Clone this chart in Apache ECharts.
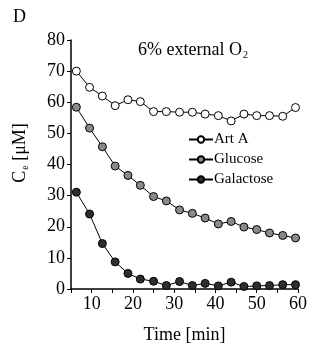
<!DOCTYPE html>
<html>
<head>
<meta charset="utf-8">
<script src="https://cdn.jsdelivr.net/npm/echarts@6/dist/echarts.min.js"></script>
<style>
  html, body { margin: 0; padding: 0; background: #fff; }
  #chart { width: 310px; height: 349px; }
</style>
</head>
<body>
<div id="chart"></div>
<script>
var chart = echarts.init(document.getElementById('chart'));

// time points [min]
var times = [6.3, 9.5, 12.6, 15.7, 18.8, 21.8, 25.0, 28.1, 31.3, 34.4, 37.5, 40.7, 43.8, 46.9, 50.0, 53.1, 56.3, 59.4];
// C_e [uM]
var artA = [70.0, 64.8, 62.0, 58.9, 60.8, 60.2, 57.0, 57.0, 56.8, 56.8, 56.2, 55.7, 54.0, 56.2, 55.7, 55.7, 55.5, 58.3];
var glucose = [58.4, 51.7, 45.7, 39.5, 36.5, 33.3, 29.7, 28.3, 25.4, 24.3, 22.8, 20.9, 21.7, 19.9, 19.1, 18.0, 17.2, 16.4];
var galactose = [31.1, 24.1, 14.6, 8.7, 5.0, 3.2, 2.5, 1.1, 2.4, 1.1, 1.8, 1.0, 2.2, 0.8, 1.0, 1.1, 1.4, 1.4];
var seriesNames = ['Art A', 'Glucose', 'Galactose'];
var fills = ['#ffffff', '#8a8a8a', '#2e2e2e'];

var font = '"Liberation Serif", "Times New Roman", serif';

function pairs(ys) {
    return ys.map(function (y, i) { return [times[i], y]; });
}

function makeSeries(name, ys, fill) {
    return {
        name: name,
        type: 'line',
        data: pairs(ys),
        symbol: 'circle',
        symbolSize: 8,
        itemStyle: { color: fill, borderColor: '#000', borderWidth: 1 },
        lineStyle: { color: '#000', width: 1 },
        animation: false
    };
}

var option = {
    backgroundColor: '#fff',
    textStyle: { fontFamily: font, color: '#000' },
    grid: { left: 71, right: 8, top: 40, bottom: 58 },
    graphic: [{
        type: 'text', left: 13, top: 8,
        style: { text: 'D', font: '18px ' + font, fill: '#000' }
    }, {
        type: 'text', left: 138, top: 41,
        style: {
            text: '{a|6% external O}{s|2}',
            fill: '#000',
            rich: {
                a: { fontSize: 18, fontFamily: font, color: '#000' },
                s: { fontSize: 10, fontFamily: font, color: '#000', padding: [10, 0, 0, 1] }
            }
        }
    }, {
        // y axis title, rotated
        type: 'text', x: 20, y: 153, rotation: Math.PI / 2,
        style: {
            text: '{c|C}{s|e}{c| [μM]}',
            align: 'center',
            verticalAlign: 'middle',
            rich: {
                c: { fontFamily: font, fontSize: 18, color: '#000' },
                s: { fontFamily: font, fontSize: 10, color: '#000', padding: [10, 0, 0, 1] }
            }
        }
    }],
    legend: {
        data: seriesNames,
        orient: 'vertical',
        left: 183,
        top: 127,
        itemWidth: 24,
        itemHeight: 8,
        itemGap: 5,
        textStyle: { fontFamily: font, fontSize: 15, color: '#000', padding: [0, 0, 0, -4] }
    },
    xAxis: {
        type: 'value',
        min: 5,
        max: 60,
        interval: 5,
        name: 'Time [min]',
        nameLocation: 'middle',
        nameGap: 37,
        nameTextStyle: { fontFamily: font, fontSize: 18, color: '#000' },
        axisLine: { lineStyle: { color: '#000', width: 1.5 } },
        axisTick: { length: 4, lineStyle: { color: '#000' } },
        splitLine: { show: false },
        axisLabel: {
            fontFamily: font, fontSize: 18, color: '#000', margin: 6,
            formatter: function (v) { return v % 10 === 0 ? v : ''; }
        }
    },
    yAxis: {
        type: 'value',
        min: 0,
        max: 80,
        interval: 10,
        axisLine: { show: true, lineStyle: { color: '#000', width: 1.5 } },
        axisTick: { show: true, length: 4, lineStyle: { color: '#000' } },
        splitLine: { show: false },
        axisLabel: { fontFamily: font, fontSize: 18, color: '#000', margin: 6 }
    },
    series: [
        makeSeries(seriesNames[0], artA, fills[0]),
        makeSeries(seriesNames[1], glucose, fills[1]),
        makeSeries(seriesNames[2], galactose, fills[2])
    ]
};
chart.setOption(option);
</script>
</body>
</html>
